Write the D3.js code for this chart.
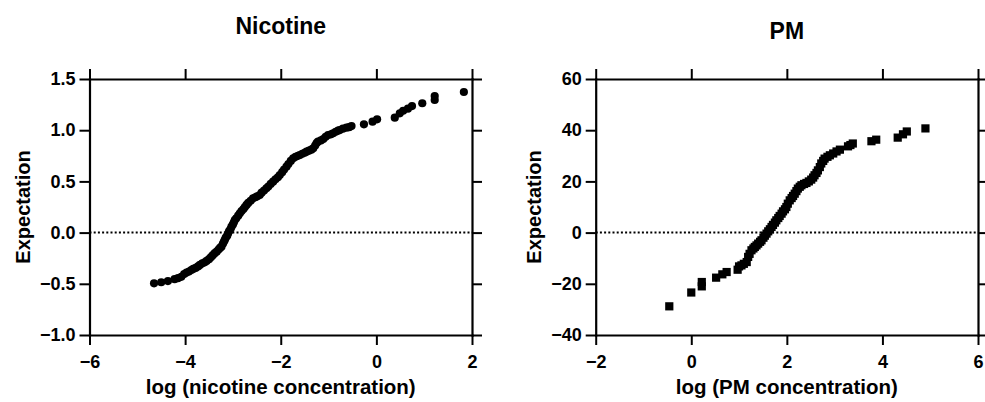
<!DOCTYPE html>
<html>
<head>
<meta charset="utf-8">
<script src="https://cdn.jsdelivr.net/npm/d3@7"></script>
<style>
  html, body { margin: 0; padding: 0; background: #fff; }
  svg { display: block; font-family: "Liberation Sans", Arial, Helvetica, sans-serif; font-weight: bold; }
</style>
</head>
<body>
<svg id="chart" width="985" height="402"></svg>
<script>
// ---- Data: Nicotine panel (log concentration, expectation) ----
const nicX = [-4.65,-4.50,-4.36,-4.22,-4.15,-4.08,-4.02,-3.97,-3.92,-3.87,-3.83,-3.78,-3.73,-3.69,-3.64,-3.59,-3.55,-3.50,-3.46,-3.42,-3.38,-3.34,-3.30,-3.27,-3.24,-3.21,-3.19,-3.17,-3.15,-3.12,-3.10,-3.08,-3.05,-3.03,-3.00,-2.98,-2.96,-2.93,-2.89,-2.855,-2.82,-2.78,-2.75,-2.715,-2.68,-2.63,-2.58,-2.53,-2.49,-2.44,-2.40,-2.35,-2.30,-2.26,-2.21,-2.16,-2.11,-2.06,-2.02,-1.97,-1.93,-1.88,-1.84,-1.79,-1.74,-1.69,-1.64,-1.60,-1.55,-1.50,-1.46,-1.41,-1.36,-1.32,-1.28,-1.25,-1.22,-1.16,-1.11,-1.06,-1.01,-0.95,-0.905,-0.85,-0.80,-0.765,-0.70,-0.625,-0.57,-0.52,-0.26,-0.08,0.015,0.385,0.49,0.56,0.66,0.745,0.96,1.22,1.22,1.83];
const nicY = [-0.495,-0.485,-0.473,-0.455,-0.445,-0.432,-0.405,-0.39,-0.38,-0.365,-0.355,-0.345,-0.33,-0.316,-0.30,-0.29,-0.277,-0.26,-0.24,-0.22,-0.20,-0.186,-0.165,-0.15,-0.137,-0.11,-0.09,-0.072,-0.05,-0.03,-0.007,0.015,0.035,0.058,0.08,0.10,0.123,0.14,0.165,0.188,0.21,0.23,0.25,0.27,0.29,0.31,0.335,0.345,0.355,0.367,0.39,0.41,0.432,0.45,0.475,0.497,0.52,0.54,0.5625,0.59,0.615,0.644,0.67,0.70,0.725,0.74,0.75,0.758,0.77,0.78,0.79,0.80,0.81,0.823,0.85,0.875,0.888,0.90,0.914,0.935,0.953,0.96,0.97,0.985,0.995,1.002,1.015,1.025,1.03,1.04,1.057,1.083,1.106,1.122,1.165,1.19,1.21,1.236,1.263,1.295,1.334,1.373];

// ---- Data: PM panel ----
const pmX = [-0.46,0.0,0.22,0.22,0.52,0.65,0.74,0.97,1.0,1.05,1.10,1.16,1.19,1.22,1.26,1.30,1.33,1.365,1.40,1.44,1.47,1.51,1.54,1.575,1.61,1.645,1.68,1.71,1.75,1.78,1.82,1.85,1.89,1.92,1.96,1.99,2.02,2.06,2.10,2.13,2.165,2.20,2.23,2.27,2.305,2.36,2.41,2.46,2.51,2.55,2.58,2.62,2.65,2.69,2.72,2.76,2.79,2.85,2.90,2.97,3.04,3.11,3.28,3.33,3.38,3.77,3.87,4.32,4.43,4.51,4.90];
const pmY = [-28.8,-23.4,-21.0,-19.3,-17.6,-16.3,-15.4,-14.5,-13.2,-12.8,-12.2,-11.5,-9.5,-8.3,-6.9,-6.2,-5.6,-5.0,-4.3,-3.6,-3.0,-2.0,-1.2,-0.4,0.5,1.3,2.2,3.0,3.9,4.8,5.7,6.5,7.4,8.3,9.1,10.0,11.3,12.6,13.5,14.3,15.2,16.2,17.2,17.9,18.5,19.0,19.4,20.0,20.7,21.5,22.4,23.3,24.3,25.6,27.0,28.0,28.9,29.6,30.2,30.9,31.7,32.4,33.7,34.2,34.8,35.7,36.3,37.1,38.4,39.5,40.7];

// ---- Ticks ----
const nicXTicks = [-6, -4, -2, 0, 2];
const nicXTickLabels = ["\u22126", "\u22124", "\u22122", "0", "2"];
const nicYTicks = [-1.0, -0.5, 0.0, 0.5, 1.0, 1.5];
const nicYTickLabels = ["\u22121.0", "\u22120.5", "0.0", "0.5", "1.0", "1.5"];
const pmXTicks = [-2, 0, 2, 4, 6];
const pmXTickLabels = ["\u22122", "0", "2", "4", "6"];
const pmYTicks = [-40, -20, 0, 20, 40, 60];
const pmYTickLabels = ["\u221240", "\u221220", "0", "20", "40", "60"];

const svg = d3.select("#chart");

function panel(cfg) {
  const x = d3.scaleLinear().domain(cfg.xDomain).range([cfg.left, cfg.right]);
  const y = d3.scaleLinear().domain(cfg.yDomain).range([cfg.bottom, cfg.top]);
  const g = svg.append("g");

  const style = sel => {
    sel.select(".domain").attr("stroke", "#000").attr("stroke-width", 2.2).attr("stroke-linecap", "square");
    sel.selectAll(".tick line").attr("stroke", "#000").attr("stroke-width", 2);
    sel.selectAll("text").attr("fill", "#000").attr("font-size", 18).attr("font-weight", "bold")
       .attr("font-family", '"Liberation Sans", Arial, sans-serif');
  };

  // zero reference line
  g.append("line")
    .attr("x1", x(cfg.xDomain[0])).attr("x2", x(cfg.xDomain[1]))
    .attr("y1", y(0)).attr("y2", y(0))
    .attr("stroke", "#000").attr("stroke-width", 2).attr("stroke-dasharray", "2,2.2");

  const xl = d3.scaleOrdinal().domain(cfg.xTicks).range(cfg.xTickLabels);
  const yl = d3.scaleOrdinal().domain(cfg.yTicks).range(cfg.yTickLabels);

  g.append("g").attr("transform", `translate(0,${cfg.bottom})`)
    .call(d3.axisBottom(x).tickValues(cfg.xTicks).tickSize(10).tickSizeOuter(0).tickPadding(10).tickFormat(d => xl(d)))
    .call(style);
  g.append("g").attr("transform", `translate(0,${cfg.top})`)
    .call(d3.axisTop(x).tickValues(cfg.xTicks).tickSize(10).tickSizeOuter(0).tickFormat(""))
    .call(style);
  g.append("g").attr("transform", `translate(${cfg.left},0)`)
    .call(d3.axisLeft(y).tickValues(cfg.yTicks).tickSize(10).tickSizeOuter(0).tickPadding(4).tickFormat(d => yl(d)))
    .call(style);
  g.append("g").attr("transform", `translate(${cfg.right},0)`)
    .call(d3.axisRight(y).tickValues(cfg.yTicks).tickSize(10).tickSizeOuter(0).tickFormat(""))
    .call(style);

  const pts = cfg.xs.map((v, i) => ({ x: v, y: cfg.ys[i] }));
  if (cfg.shape === "circle") {
    g.append("g").selectAll("circle").data(pts).join("circle")
      .attr("cx", d => x(d.x)).attr("cy", d => y(d.y)).attr("r", 4.1).attr("fill", "#000");
  } else {
    const s = 8.2;
    g.append("g").selectAll("rect").data(pts).join("rect")
      .attr("x", d => x(d.x) - s / 2).attr("y", d => y(d.y) - s / 2)
      .attr("width", s).attr("height", s).attr("fill", "#000");
  }

  const cx = (cfg.left + cfg.right) / 2;
  g.append("text").attr("x", cx).attr("y", cfg.titleY).attr("text-anchor", "middle")
    .attr("font-size", 23).text(cfg.title);
  g.append("text").attr("x", cx).attr("y", 394).attr("text-anchor", "middle")
    .attr("font-size", 20.5).text(cfg.xLabel);
  g.append("text").attr("transform", `translate(${cfg.yLabelX},${(cfg.top + cfg.bottom) / 2}) rotate(-90)`)
    .attr("text-anchor", "middle").attr("dy", "0.35em")
    .attr("font-size", 20).text("Expectation");
}

panel({
  xDomain: [-6, 2], yDomain: [-1, 1.5], left: 89.5, right: 472, top: 79, bottom: 335,
  xTicks: nicXTicks, xTickLabels: nicXTickLabels, yTicks: nicYTicks, yTickLabels: nicYTickLabels,
  xs: nicX, ys: nicY, shape: "circle", title: "Nicotine", titleY: 34,
  xLabel: "log (nicotine concentration)", yLabelX: 23
});
panel({
  xDomain: [-2, 6], yDomain: [-40, 60], left: 595.7, right: 978, top: 79, bottom: 335,
  xTicks: pmXTicks, xTickLabels: pmXTickLabels, yTicks: pmYTicks, yTickLabels: pmYTickLabels,
  xs: pmX, ys: pmY, shape: "square", title: "PM", titleY: 39,
  xLabel: "log (PM concentration)", yLabelX: 534
});
</script>
</body>
</html>
